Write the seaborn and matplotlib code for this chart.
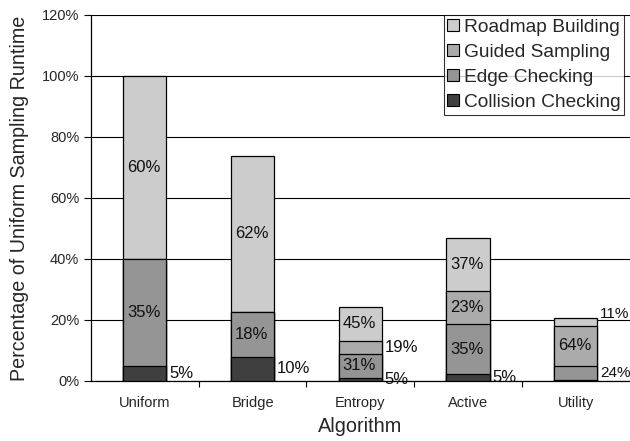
import numpy as np
import pandas as pd
import matplotlib
matplotlib.use("Agg")
import matplotlib.pyplot as plt
import seaborn as sns
from matplotlib.patches import Patch

# ---- data (percent of Uniform sampling runtime) ----
algorithms = ["Uniform", "Bridge", "Entropy", "Active", "Utility"]
components = ["Collision Checking", "Edge Checking", "Guided Sampling", "Roadmap Building"]
collision = [5.0, 8.0, 1.1, 2.3, 0.3]
edge = [35.0, 14.7, 7.65, 16.3, 4.7]
guided = [0.0, 0.0, 4.45, 11.0, 13.1]
roadmap = [60.0, 51.1, 11.2, 17.4, 2.5]

# share labels per segment (None = no label)
lab_collision = ["5%", "10%", "5%", "5%", None]
lab_edge = ["35%", "18%", "31%", "35%", "24%"]
lab_guided = [None, None, "19%", "23%", "64%"]
lab_roadmap = ["60%", "62%", "45%", "37%", "11%"]

# ---- style ----
sns.set_theme(style="white")
plt.rcParams["font.family"] = ["Liberation Sans", "DejaVu Sans"]
COLORS = {
    "Roadmap Building": "#cccccc",
    "Guided Sampling": "#ababab",
    "Edge Checking": "#959595",
    "Collision Checking": "#3f3f3f",
}
BAR_W = 0.4

layers = [collision, edge, guided, roadmap]
labels = [lab_collision, lab_edge, lab_guided, lab_roadmap]
cum = np.cumsum(np.array(layers), axis=0)

fig = plt.figure(figsize=(6.3, 4.41), dpi=100)
ax = fig.add_axes([0.1444, 0.1361, 0.855, 0.830])

# draw the stack from the top down so each layer covers the one above it
for i in reversed(range(len(components))):
    df = pd.DataFrame({"algorithm": algorithms, "value": cum[i]})
    sns.barplot(data=df, x="algorithm", y="value", color=COLORS[components[i]],
                saturation=1, width=BAR_W, edgecolor="black", linewidth=0.9,
                ax=ax, zorder=3)

# segment labels: inside if there is room, else to the right of the bar
for i in range(len(components)):
    bottoms = cum[i] - np.array(layers[i])
    for j in range(len(algorithms)):
        txt = labels[i][j]
        if txt is None:
            continue
        h = layers[i][j]
        y = bottoms[j] + h / 2
        inside = h > 7 and not (i == 0)
        if inside:
            ax.text(j - 0.01, y, txt, ha="center", va="center", fontsize=12,
                    color="#111111", zorder=5)
        else:
            if i == 3 and j == 4:
                y = cum[i][j] + 1.5
            # last bar sits against the figure edge: keep its labels inside
            fs = 11 if j == len(algorithms) - 1 else 12
            ax.text(j + BAR_W / 2 + 0.025, y, txt, ha="left", va="center",
                    fontsize=fs, color="#111111", zorder=5)

ax.set_xlim(-0.5, len(algorithms) - 0.5)
ax.set_ylim(0, 120)
ax.set_yticks(np.arange(0, 121, 20))
ax.set_yticklabels([f"{v}%" for v in range(0, 121, 20)])
ax.yaxis.grid(True, color="black", linewidth=0.8, zorder=0)
ax.xaxis.grid(False)

ax.set_xticks(np.arange(len(algorithms)))
ax.set_xticks(np.arange(0.5, len(algorithms) - 0.5), minor=True)
ax.tick_params(axis="x", which="major", length=0, labelsize=10.5, pad=11)
ax.tick_params(axis="x", which="minor", length=4, width=0.8, direction="out",
               color="black", bottom=True)
ax.tick_params(axis="y", length=5, width=0.8, direction="out", left=True,
               labelsize=10.5, color="black")

for s in ["top", "right"]:
    ax.spines[s].set_visible(False)
for s in ["left", "bottom"]:
    ax.spines[s].set_color("black")
    ax.spines[s].set_linewidth(0.9)

ax.set_xlabel("Algorithm", fontsize=14.3, labelpad=5)
ax.set_ylabel("Percentage of Uniform Sampling Runtime", fontsize=14.2, labelpad=9)

handles = [Patch(facecolor=COLORS[c], edgecolor="black", linewidth=0.8)
           for c in reversed(components)]
leg = ax.legend(handles, list(reversed(components)), loc="upper right",
                bbox_to_anchor=(0.99, 1.0), borderaxespad=0, fontsize=13.8,
                frameon=True, fancybox=False, handlelength=0.6, handleheight=0.6,
                handletextpad=0.25, labelspacing=0.42, borderpad=0.2)
leg.get_frame().set_edgecolor("black")
leg.get_frame().set_linewidth(0.8)
leg.set_zorder(6)

fig.savefig("out.png", dpi=100)
